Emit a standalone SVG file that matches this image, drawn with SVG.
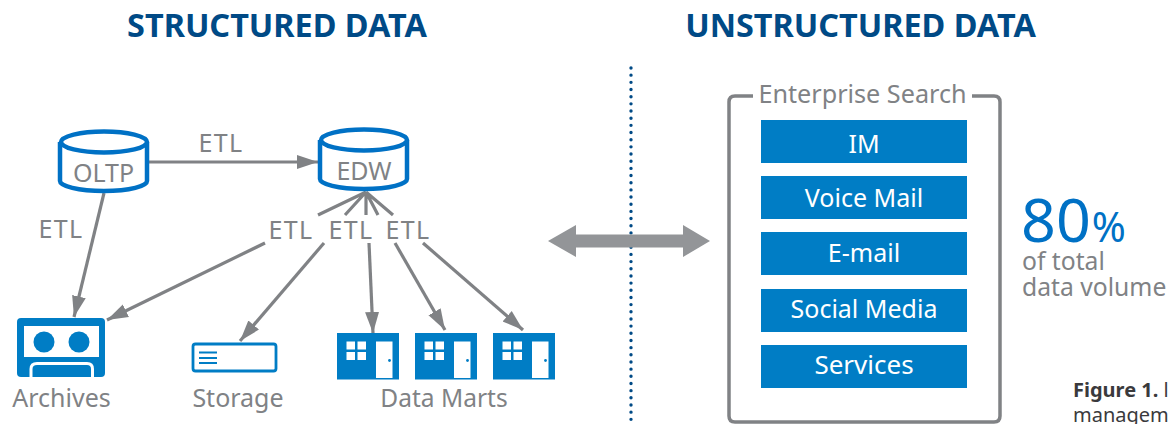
<svg xmlns="http://www.w3.org/2000/svg" width="1170" height="424" viewBox="0 0 1170 424">
<style>
text{font-family:"Noto Sans","Open Sans","Liberation Sans",sans-serif}
.h{font-size:32.400px;font-weight:700;fill:#004a86;text-anchor:middle}
.g{font-size:25px;fill:#808285;text-anchor:middle}
.e{letter-spacing:1.300px}
.w{font-size:25px;fill:#fff;text-anchor:middle}
.c{fill:#fff;stroke:#0071c5;stroke-width:4.5}
.l{fill:none;stroke:#808285;stroke-width:3.2}
.b{fill:#007dc5}
.f{font-size:20px;fill:#3a3a3c}
</style>
<defs>
<marker id="a" markerUnits="userSpaceOnUse" markerWidth="22" markerHeight="16" refX="21" refY="8" orient="auto"><path d="M0 1L21 8L0 15Z" fill="#808285"/></marker>
<g id="mart">
<rect width="62" height="46.500" fill="#007dc5"/>
<path d="M9.500 8.500h8.500v8h-8.500zM20.500 8.500h8.500v8h-8.500zM9.500 19h8.500v8h-8.500zM20.500 19h8.500v8h-8.500zM39 8.500h16.500v36.500h-16.500z" fill="#fff"/>
<circle cx="52.500" cy="27.500" r="1.400" fill="#007dc5"/>
</g>
</defs>
<text class="h" x="277" y="37">STRUCTURED DATA</text>
<text class="h" x="860.500" y="37">UNSTRUCTURED DATA</text>
<g id="connectors">
<path class="l" marker-end="url(#a)" d="M149 162H318"/>
<path class="l" marker-end="url(#a)" d="M104 193L74 317"/>
<path class="l" marker-end="url(#a)" d="M265 243L107 320"/>
<path class="l" marker-end="url(#a)" d="M324 243L240 341"/>
<path class="l" marker-end="url(#a)" d="M369 243L373 333"/>
<path class="l" marker-end="url(#a)" d="M395 243L445 330"/>
<path class="l" marker-end="url(#a)" d="M423 243L523 330"/>
<path class="l" d="M366 192L318 215M366 192L345 215M366 192V215M366 192L378 215M366 192L393 215"/>
</g>
<g id="oltp">
<path class="c" d="M60 142V181C60 186 78 191 104 191S147 186 147 181V142"/>
<ellipse class="c" cx="104" cy="142" rx="43" ry="10.500"/>
<text class="g" x="103.500" y="182">OLTP</text>
</g>
<g id="edw">
<path class="c" d="M320 140V179C320 184 338 189 364 189S407 184 407 179V140"/>
<ellipse class="c" cx="364" cy="140" rx="43" ry="10.500"/>
<text class="g" x="364" y="180">EDW</text>
</g>
<g id="etl-labels">
<text class="g e" x="221" y="152">ETL</text>
<text class="g e" x="61" y="238">ETL</text>
<text class="g e" x="291" y="239">ETL</text>
<text class="g e" x="351" y="239">ETL</text>
<text class="g e" x="408" y="239">ETL</text>
</g>
<g id="archives">
<rect x="17" y="318" width="88" height="59" rx="4" fill="#007dc5"/>
<rect x="24" y="326" width="75" height="31" fill="#fff"/>
<circle cx="44" cy="342" r="10.500" class="b"/>
<circle cx="79" cy="342" r="10.500" class="b"/>
<path d="M31 377V369Q31 363.500 37 363.500H87Q92.500 363.500 92.500 369V377" fill="#007dc5" stroke="#fff" stroke-width="3"/>
<text class="g" x="61.500" y="407">Archives</text>
</g>
<g id="storage">
<rect x="193" y="344" width="83" height="27" rx="2.500" fill="#fff" stroke="#007dc5" stroke-width="2.800"/>
<path d="M199 352.500H217M199 358H217M199 363H217" stroke="#007dc5" stroke-width="2.200"/>
<text class="g" x="238" y="407">Storage</text>
</g>
<g id="data-marts">
<use href="#mart" x="337" y="333"/>
<use href="#mart" x="415" y="333"/>
<use href="#mart" x="493" y="333"/>
<text class="g" x="444" y="407" font-size="24.500" style="font-size:24.500px">Data Marts</text>
</g>
<g id="divider">
<path d="M631 68V420" fill="none" stroke="#004a86" stroke-width="3.400" stroke-linecap="round" stroke-dasharray="0 7.170"/>
</g>
<g id="double-arrow">
<path d="M548 241L576 225V234.500H683V225L710 241L683 257V247.500H576V257Z" fill="#939598"/>
</g>
<g id="enterprise-search">
<path d="M753 96H735Q729 96 729 102V416Q729 422 735 422H994Q1000 422 1000 416V102Q1000 96 994 96H972" fill="none" stroke="#808285" stroke-width="3.500"/>
<text class="g" x="862.500" y="103" style="font-size:25.200px">Enterprise Search</text>
<rect class="b" x="761" y="120" width="206" height="43"/><text class="w" x="864" y="153">IM</text>
<rect class="b" x="761" y="176" width="206" height="43"/><text class="w" x="864" y="207">Voice Mail</text>
<rect class="b" x="761" y="232" width="206" height="43"/><text class="w" x="864" y="262">E-mail</text>
<rect class="b" x="761" y="289" width="206" height="43"/><text class="w" x="864" y="318">Social Media</text>
<rect class="b" x="761" y="345" width="206" height="43"/><text class="w" x="864" y="374" style="font-size:26px">Services</text>
</g>
<g id="stat">
<text x="1021" y="242" font-size="61" fill="#0071c5">80<tspan font-size="41" dx="1">%</tspan></text>
<text x="1022" y="270" font-size="24.700" fill="#808285">of total</text>
<text x="1022" y="296" font-size="24.700" fill="#808285">data volume</text>
</g>
<text class="f" x="1073" y="397"><tspan font-weight="700">Figure 1.</tspan> l</text>
<text class="f" x="1073" y="422">managem</text>
</svg>
